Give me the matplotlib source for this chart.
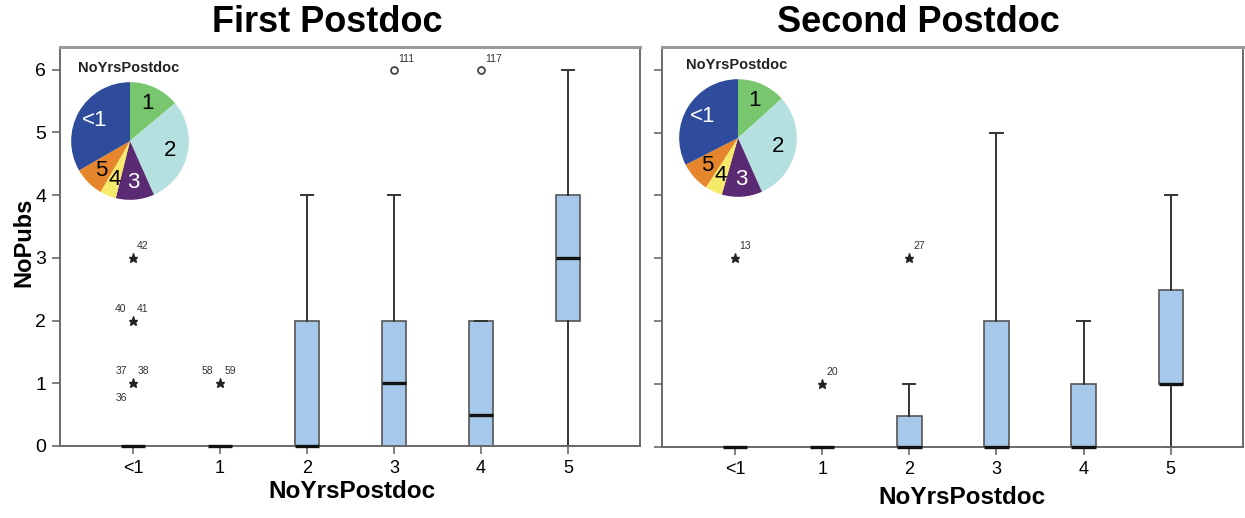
import matplotlib
matplotlib.use("Agg")
import matplotlib.pyplot as plt

plt.rcParams['font.family'] = ['Liberation Sans', 'DejaVu Sans']

categories = ["<1", "1", "2", "3", "4", "5"]

# First postdoc box statistics
first_q1 = [0, 0, 0, 0, 0, 2]
first_med = [0, 0, 0, 1, 0.5, 3]
first_q3 = [0, 0, 2, 2, 2, 4]
first_lo = [0, 0, 0, 0, 0, 0]
first_hi = [0, 0, 4, 4, 2, 6]
# outliers: (category index, value, case labels)
first_extremes = [(0, 3, ["42"]), (0, 2, ["40", "41"]), (0, 1, ["37", "38", "36"]), (1, 1, ["58", "59"])]
first_outliers = [(3, 6, ["111"]), (4, 6, ["117"])]

# Second postdoc box statistics
second_q1 = [0, 0, 0, 0, 0, 1]
second_med = [0, 0, 0, 0, 0, 1]
second_q3 = [0, 0, 0.5, 2, 1, 2.5]
second_lo = [0, 0, 0, 0, 0, 0]
second_hi = [0, 0, 1, 5, 2, 4]
second_extremes = [(0, 3, ["13"]), (1, 1, ["20"]), (2, 3, ["27"])]
second_outliers = []

# Pie shares (degrees), order: 1, 2, 3, 4, 5, <1
pie_labels = ["1", "2", "3", "4", "5", "<1"]
first_pie = [50, 106, 38, 16, 30, 120]
second_pie = [48, 108, 40, 17, 30, 117]

pie_colors = ["#78c76f", "#b4e0e0", "#5a2a72", "#f5ea6a", "#e5862d", "#2e4b9c"]
pie_text_colors = ["black", "black", "white", "black", "black", "white"]

W, H = 1245, 518
fig = plt.figure(figsize=(W / 100, H / 100), dpi=100)

def fx(px):
    return px / W

def fy(py):
    return 1 - py / H

spine_col = "#6a6a6a"

def draw_panel(rect, q1, med, q3, lo, hi, extremes, outliers, pie_vals, pie_center, show_ylabels):
    ax = fig.add_axes(rect)
    stats = []
    for i in range(len(categories)):
        stats.append(dict(q1=q1[i], med=med[i], q3=q3[i], whislo=lo[i], whishi=hi[i], fliers=[]))
    arts = ax.bxp(stats, positions=list(range(len(categories))), widths=0.28, patch_artist=True,
                  showfliers=False, capwidths=0.14,
                  boxprops=dict(facecolor="#a6c8ea", edgecolor="#555555", linewidth=1.2),
                  medianprops=dict(color="#111111", linewidth=2.4),
                  whiskerprops=dict(color="#333333", linewidth=1.4),
                  capprops=dict(color="#333333", linewidth=1.4))
    for key in ("boxes", "medians", "whiskers", "caps"):
        for a in arts[key]:
            a.set_clip_on(False)
    for a in arts["medians"]:
        a.set_zorder(6)
    # extremes (stars)
    for (ci, v, labs) in extremes:
        ax.plot(ci, v, marker="*", color="#222222", markersize=6.5, linestyle="none", zorder=5)
        if len(labs) == 1:
            offs = [(3, 5, "left")]
        elif len(labs) == 2:
            offs = [(-5, 5, "right"), (3, 5, "left")]
        else:
            offs = [(-4, 5, "right"), (3, 5, "left"), (-4, -14, "right")]
        for lab, (dx, dy, ha) in zip(labs, offs):
            ax.annotate(lab, (ci, v), xytext=(dx, dy), textcoords="offset points",
                        fontsize=7.5, ha=ha, va="bottom", color="#333333")
    for (ci, v, labs) in outliers:
        ax.plot(ci, v, marker="o", markerfacecolor="white", markeredgecolor="#444444",
                markersize=5, markeredgewidth=1.3, linestyle="none", zorder=5)
        ax.annotate(labs[0], (ci, v), xytext=(3, 4), textcoords="offset points",
                    fontsize=7.5, ha="left", va="bottom", color="#333333")
    ax.set_xlim(-0.84, 5.83)
    ax.set_ylim(0, 6.36)
    ax.set_xticks(range(len(categories)))
    ax.set_xticklabels(categories, fontsize=13)
    ax.set_yticks(range(7))
    if show_ylabels:
        ax.set_yticklabels([str(i) for i in range(7)], fontsize=14)
    else:
        ax.set_yticklabels([])
    ax.tick_params(direction="out", length=6, width=1.2, color=spine_col, pad=4)
    for s in ax.spines.values():
        s.set_color(spine_col)
        s.set_linewidth(1.4)
    ax.spines["top"].set_color("#9a9a9a")
    ax.spines["top"].set_linewidth(2.2)

    # pie inset
    cx, cy, r = pie_center
    pax = fig.add_axes([fx(cx - r), fy(cy + r), fx(2 * r), (2 * r) / H])
    wedges, texts = pax.pie(pie_vals, colors=pie_colors, startangle=90, counterclock=False,
                            labels=pie_labels, labeldistance=0.7,
                            wedgeprops=dict(linewidth=0))
    for t, c in zip(texts, pie_text_colors):
        t.set_color(c)
        t.set_fontsize(16)
        t.set_ha("center")
        t.set_va("center")
    pax.set_xlim(-1.02, 1.02)
    pax.set_ylim(-1.02, 1.02)
    pax.set_aspect("equal")
    pax.set_axis_off()
    fig.text(fx(cx - 52), fy(cy - 73), "NoYrsPostdoc", fontsize=10.5, fontweight="bold",
             ha="left", va="center", color="#222222")
    return ax

ax1 = draw_panel([fx(60), fy(446), fx(640 - 60), (446 - 47) / H],
                 first_q1, first_med, first_q3, first_lo, first_hi,
                 first_extremes, first_outliers, first_pie, (130, 141, 60), True)
ax2 = draw_panel([fx(662), fy(447), fx(1243 - 662), (447 - 47) / H],
                 second_q1, second_med, second_q3, second_lo, second_hi,
                 second_extremes, second_outliers, second_pie, (738, 138, 60), False)

fig.text(fx(327), fy(23), "First Postdoc", fontsize=26, fontweight="bold", ha="center", va="center")
fig.text(fx(918), fy(23), "Second Postdoc", fontsize=26, fontweight="bold", ha="center", va="center")
fig.text(fx(352), fy(491), "NoYrsPostdoc", fontsize=17.5, fontweight="bold", ha="center", va="center")
fig.text(fx(962), fy(497), "NoYrsPostdoc", fontsize=17.5, fontweight="bold", ha="center", va="center")
fig.text(fx(24), fy(242), "NoPubs", fontsize=17, fontweight="bold", ha="center", va="center", rotation=90)

fig.savefig("out.png", dpi=100)
